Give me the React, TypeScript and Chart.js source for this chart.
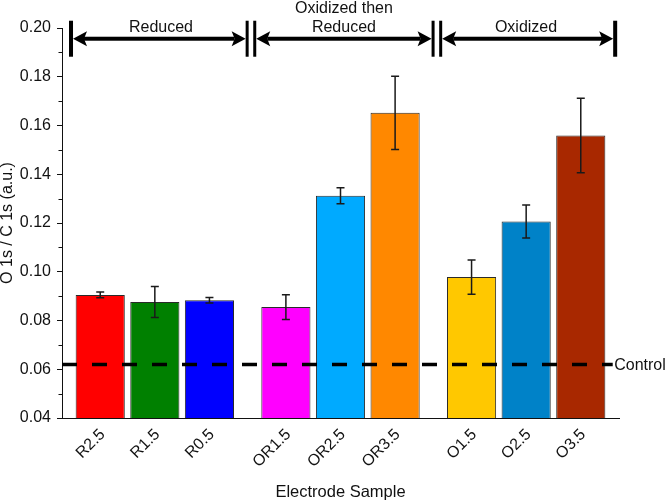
import React, { useEffect, useRef } from 'react';
import { Chart, registerables } from 'chart.js';

Chart.register(...registerables);

const categories = ['R2.5', 'R1.5', 'R0.5', 'OR1.5', 'OR2.5', 'OR3.5', 'O1.5', 'O2.5', 'O3.5'];
const xPositions = [1, 2, 3, 4.4, 5.4, 6.4, 7.8, 8.8, 9.8];
const ratioValues = [0.0905, 0.0876, 0.0883, 0.0855, 0.1312, 0.1652, 0.0978, 0.1206, 0.1559];
const ratioErrors = [0.0012, 0.0064, 0.0011, 0.0051, 0.0033, 0.015, 0.007, 0.0068, 0.0153];
const barColors = ['#FF0000', '#008000', '#0000FF', '#FF00FF', '#00AAFF', '#FF8800', '#FFC800', '#0082C8', '#A82800'];
const yTickValues = [0.04, 0.06, 0.08, 0.1, 0.12, 0.14, 0.16, 0.18, 0.2];
const yMinorTickValues = [0.05, 0.07, 0.09, 0.11, 0.13, 0.15, 0.17, 0.19];
const controlValue = 0.062;
const controlRange = [0.3, 10.385];
const groupLabels = [['Reduced'], ['Oxidized then', 'Reduced'], ['Oxidized']];
const groupBounds = [0.465, 3.76, 7.165, 10.43];
const groupArrowValue = 0.1956;

const FONT = "'Liberation Sans', Arial, Helvetica, sans-serif";

const extrasPlugin = {
  id: 'extras',
  afterDatasetsDraw(chart: any) {
    const { ctx } = chart;
    const x = chart.scales.x;
    const y = chart.scales.y;
    ctx.save();
    ctx.strokeStyle = '#1a1a1a';
    ctx.lineWidth = 1.5;
    ratioValues.forEach((v, i) => {
      const px = x.getPixelForValue(xPositions[i]);
      const top = y.getPixelForValue(v + ratioErrors[i]);
      const bot = y.getPixelForValue(v - ratioErrors[i]);
      ctx.beginPath();
      ctx.moveTo(px, top);
      ctx.lineTo(px, bot);
      ctx.moveTo(px - 4, top);
      ctx.lineTo(px + 4, top);
      ctx.moveTo(px - 4, bot);
      ctx.lineTo(px + 4, bot);
      ctx.stroke();
    });
    ctx.restore();
  },
  afterDraw(chart: any) {
    const { ctx } = chart;
    const x = chart.scales.x;
    const y = chart.scales.y;
    const left = chart.chartArea.left;
    const bottom = chart.chartArea.bottom;
    ctx.save();
    // minor ticks
    ctx.strokeStyle = '#111';
    ctx.lineWidth = 1;
    yMinorTickValues.forEach((v) => {
      const py = Math.round(y.getPixelForValue(v)) + 0.5;
      ctx.beginPath();
      ctx.moveTo(left - 3.5, py);
      ctx.lineTo(left, py);
      ctx.stroke();
    });

    // rotated category labels
    ctx.fillStyle = '#111';
    ctx.font = `16px ${FONT}`;
    ctx.textAlign = 'right';
    ctx.textBaseline = 'middle';
    categories.forEach((c, i) => {
      const px = x.getPixelForValue(xPositions[i]);
      ctx.save();
      ctx.translate(px + 2.5, bottom + 14);
      ctx.rotate(-Math.PI / 4);
      ctx.fillText(c, 0, 0);
      ctx.restore();
    });

    // group annotations
    const yA = y.getPixelForValue(groupArrowValue);
    const bx = groupBounds.map((v) => x.getPixelForValue(v));
    ctx.fillStyle = '#000';
    const barH = 36;
    const sep = 3.8;
    ctx.fillRect(bx[0] - 2, yA - barH / 2, 4, barH);
    ctx.fillRect(bx[3] - 2, yA - barH / 2, 4, barH);
    [bx[1], bx[2]].forEach((b) => {
      ctx.fillRect(b - sep - 1.5, yA - barH / 2, 3, barH);
      ctx.fillRect(b + sep - 1.5, yA - barH / 2, 3, barH);
    });
    const drawArrow = (x1: number, x2: number) => {
      const hl = 14;
      const hh = 7.5;
      ctx.fillRect(x1 + hl - 3, yA - 2, x2 - x1 - 2 * hl + 6, 4);
      ctx.beginPath();
      ctx.moveTo(x1, yA);
      ctx.lineTo(x1 + hl, yA - hh);
      ctx.lineTo(x1 + hl - 3, yA);
      ctx.lineTo(x1 + hl, yA + hh);
      ctx.closePath();
      ctx.fill();
      ctx.beginPath();
      ctx.moveTo(x2, yA);
      ctx.lineTo(x2 - hl, yA - hh);
      ctx.lineTo(x2 - hl + 3, yA);
      ctx.lineTo(x2 - hl, yA + hh);
      ctx.closePath();
      ctx.fill();
    };
    drawArrow(bx[0] + 2, bx[1] - sep - 1.5);
    drawArrow(bx[1] + sep + 1.5, bx[2] - sep - 1.5);
    drawArrow(bx[2] + sep + 1.5, bx[3] - 2);

    ctx.font = `16px ${FONT}`;
    ctx.textAlign = 'center';
    ctx.textBaseline = 'alphabetic';
    ctx.fillStyle = '#111';
    groupLabels.forEach((lines, i) => {
      const cx = (bx[i] + bx[i + 1]) / 2;
      lines.forEach((t, j) => {
        const base = yA - 7 - (lines.length - 1 - j) * 19;
        ctx.fillText(t, cx, base);
      });
    });

    // control label
    const cxp = x.getPixelForValue(controlRange[1]);
    const cyp = y.getPixelForValue(controlValue);
    ctx.textAlign = 'left';
    ctx.textBaseline = 'middle';
    ctx.fillText('Control', cxp + 1.5, cyp + 1);
    ctx.restore();
  },
};

export default function App() {
  const ref = useRef<HTMLCanvasElement | null>(null);
  useEffect(() => {
    if (!ref.current) return;
    Chart.defaults.font.family = FONT;
    Chart.defaults.font.size = 16;
    Chart.defaults.color = '#111';
    const chart = new Chart(ref.current, {
      type: 'bar',
      data: {
        datasets: [
          {
            type: 'line',
            data: controlRange.map((xv) => ({ x: xv, y: controlValue })),
            borderColor: '#000',
            borderWidth: 3.5,
            borderDash: [15, 15],
            pointRadius: 0,
            fill: false,
            order: 1,
          } as any,
          {
            type: 'bar',
            data: xPositions.map((xv, i) => ({ x: xv, y: ratioValues[i] })),
            backgroundColor: barColors,
            borderColor: '#2a2a2a',
            borderWidth: 1,
            barPercentage: 0.9,
            categoryPercentage: 1,
            order: 2,
          } as any,
        ],
      },
      options: {
        responsive: false,
        animation: false,
        layout: { padding: { top: 28, right: 47, left: 0, bottom: 0 } },
        plugins: { legend: { display: false }, tooltip: { enabled: false } },
        scales: {
          x: {
            type: 'linear',
            min: 0.3,
            max: 10.5,
            offset: false,
            grid: { display: false },
            border: { display: true, color: '#111', width: 1 },
            afterBuildTicks: (scale: any) => {
              scale.ticks = xPositions.map((v) => ({ value: v }));
            },
            afterFit: (scale: any) => {
              scale.height = 84;
            },
            ticks: {
              display: false,
              autoSkip: false,
            },
            title: {
              display: true,
              text: 'Electrode Sample',
              color: '#111',
              font: { size: 16.5 },
              padding: 0,
            },
          },
          y: {
            type: 'linear',
            min: 0.04,
            max: 0.2,
            grid: { display: true, drawOnChartArea: false, tickLength: 5, color: '#111' },
            border: { display: true, color: '#111', width: 1 },
            afterBuildTicks: (scale: any) => {
              scale.ticks = yTickValues.map((v) => ({ value: v }));
            },
            afterFit: (scale: any) => {
              scale.width = 62;
            },
            ticks: {
              padding: 6,
              color: '#111',
              font: { size: 16 },
              callback: (v: any) => Number(v).toFixed(2),
            },
            title: {
              display: true,
              text: 'O 1s / C 1s (a.u.)',
              color: '#111',
              font: { size: 16, lineHeight: 1 },
              padding: 0,
            },
          },
        },
      } as any,
      plugins: [extrasPlugin],
    });
    return () => chart.destroy();
  }, []);
  return (
    <div style={{ position: 'absolute', left: 0, top: 0, width: 666, height: 502, background: '#fff' }}>
      <canvas ref={ref} width={666} height={502} />
    </div>
  );
}
